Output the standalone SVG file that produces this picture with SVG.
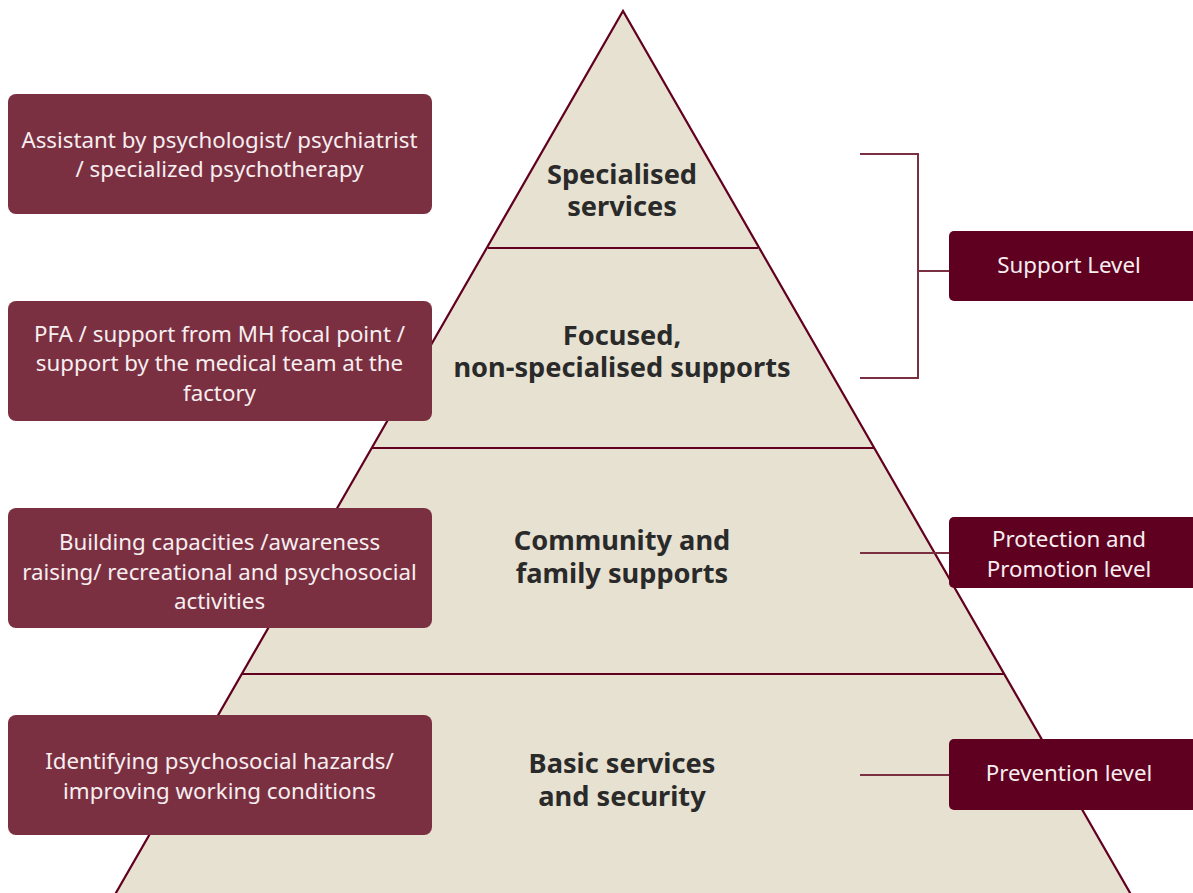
<svg xmlns="http://www.w3.org/2000/svg" width="1193" height="893" viewBox="0 0 1193 893">
<style>
.tier{fill:#e6e1d0;stroke:none}
.edge{fill:none;stroke:#62001f;stroke-width:2.2}
.conn{fill:none;stroke:#7b3042;stroke-width:2}
.lbox{fill:#7b3042}
.rbox{fill:#600020}
.ctext{font-family:"Noto Sans","Open Sans",sans-serif;font-weight:bold;font-size:27.2px;fill:#2a2a2a;text-anchor:middle}
.btext{font-family:"Noto Sans","Open Sans",sans-serif;font-size:22.3px;fill:#f7eef0;text-anchor:middle}
</style>
<rect width="1193" height="893" fill="#ffffff"/>
<g id="pyramid">
<polygon class="tier" points="623,11 116,893 1130,893"/>
<polyline class="edge" points="113,898 623,11 1133,898"/>
<line class="edge" x1="488" y1="248" x2="758" y2="248"/>
<line class="edge" x1="372" y1="448" x2="874" y2="448"/>
<line class="edge" x1="242" y1="674" x2="1004" y2="674"/>
</g>
<g id="tier-specialised">
<text class="ctext"><tspan x="622" y="184">Specialised</tspan><tspan x="622" y="216">services</tspan></text>
</g>
<g id="tier-focused">
<text class="ctext"><tspan x="622" y="345">Focused,</tspan><tspan x="622" y="377">non-specialised supports</tspan></text>
</g>
<g id="tier-community">
<text class="ctext"><tspan x="622" y="550">Community and</tspan><tspan x="622" y="583">family supports</tspan></text>
</g>
<g id="tier-basic">
<text class="ctext"><tspan x="622" y="773">Basic services</tspan><tspan x="622" y="806">and security</tspan></text>
</g>
<g id="connectors">
<polyline class="conn" points="860,154 918,154 918,378 860,378"/>
<line class="conn" x1="918" y1="271" x2="950" y2="271"/>
<line class="conn" x1="860" y1="553" x2="954" y2="553"/>
<line class="conn" x1="860" y1="775" x2="950" y2="775"/>
</g>
<g id="box-specialised">
<rect class="lbox" x="8" y="94" width="424" height="120" rx="8"/>
<text class="btext"><tspan x="219.5" y="148">Assistant by psychologist/ psychiatrist</tspan><tspan x="219.5" y="177">/ specialized psychotherapy</tspan></text>
</g>
<g id="box-focused">
<rect class="lbox" x="8" y="301" width="424" height="120" rx="8"/>
<text class="btext"><tspan x="219.5" y="342">PFA / support from MH focal point /</tspan><tspan x="219.5" y="371">support by the medical team at the</tspan><tspan x="219.5" y="401">factory</tspan></text>
</g>
<g id="box-community">
<rect class="lbox" x="8" y="508" width="424" height="120" rx="8"/>
<text class="btext"><tspan x="219.5" y="550">Building capacities /awareness</tspan><tspan x="219.5" y="580">raising/ recreational and psychosocial</tspan><tspan x="219.5" y="609">activities</tspan></text>
</g>
<g id="box-basic">
<rect class="lbox" x="8" y="715" width="424" height="120" rx="8"/>
<text class="btext"><tspan x="219.5" y="769">Identifying psychosocial hazards/</tspan><tspan x="219.5" y="799">improving working conditions</tspan></text>
</g>
<g id="level-support">
<rect class="rbox" x="949" y="231" width="254" height="70" rx="5"/>
<text class="btext" x="1069" y="273">Support Level</text>
</g>
<g id="level-protection">
<rect class="rbox" x="949" y="517" width="254" height="71" rx="5"/>
<text class="btext"><tspan x="1069" y="547">Protection and</tspan><tspan x="1069" y="577">Promotion level</tspan></text>
</g>
<g id="level-prevention">
<rect class="rbox" x="949" y="739" width="254" height="71" rx="5"/>
<text class="btext" x="1069" y="781">Prevention level</text>
</g>
</svg>
